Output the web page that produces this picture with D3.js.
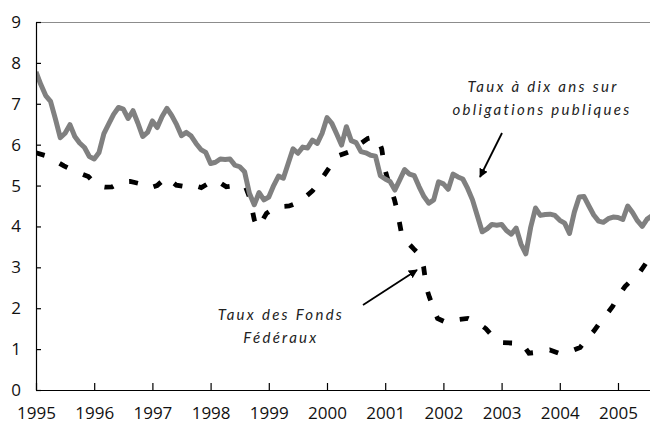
<!DOCTYPE html>
<html>
<head>
<meta charset="utf-8">
<script src="https://cdn.jsdelivr.net/npm/d3@7"></script>
<style>
  body { margin: 0; background: #fff; }
  .axis text { font-family: "Open Sans", sans-serif; font-size: 17px; fill: #111; }
  .axis path, .axis line { stroke: #000; stroke-width: 1.2; }
  .note { font-family: Lato, sans-serif; font-style: italic; font-size: 15px; letter-spacing: 2.3px; fill: #222; }
</style>
</head>
<body>
<div id="chart"></div>
<script>
// 10-year treasury yield, monthly, Jan 1995 -> Aug 2005
var tenYearStart = 1995;
var tenYearRates = [
  7.78, 7.47, 7.20, 7.06, 6.63, 6.17, 6.28, 6.49, 6.20, 6.04, 5.93, 5.71,
  5.65, 5.81, 6.27, 6.51, 6.74, 6.91, 6.87, 6.64, 6.83, 6.53, 6.20, 6.30,
  6.58, 6.42, 6.69, 6.89, 6.71, 6.49, 6.22, 6.30, 6.21, 6.03, 5.88, 5.81,
  5.54, 5.57, 5.65, 5.64, 5.65, 5.50, 5.46, 5.34, 4.81, 4.53, 4.83, 4.65,
  4.72, 5.00, 5.23, 5.18, 5.54, 5.90, 5.79, 5.94, 5.92, 6.11, 6.03, 6.28,
  6.66, 6.52, 6.26, 5.99, 6.44, 6.10, 6.05, 5.83, 5.80, 5.74, 5.72, 5.24,
  5.16, 5.10, 4.89, 5.14, 5.39, 5.28, 5.24, 4.97, 4.73, 4.57, 4.65, 5.09,
  5.04, 4.91, 5.28, 5.21, 5.16, 4.93, 4.65, 4.26, 3.87, 3.94, 4.05, 4.03,
  4.05, 3.90, 3.81, 3.96, 3.57, 3.33, 3.98, 4.45, 4.27, 4.29, 4.30, 4.27,
  4.15, 4.08, 3.83, 4.35, 4.72, 4.73, 4.50, 4.28, 4.13, 4.10, 4.19, 4.23,
  4.22, 4.17, 4.50, 4.34, 4.14, 4.00, 4.18, 4.26
];

// Fed funds rate (decimal years)
var fedYears = [
  1995.00, 1995.19, 1995.34, 1995.48, 1995.65, 1995.90, 1996.05, 1996.19, 1996.31, 1996.46,
  1996.62, 1996.77, 1996.94, 1997.08, 1997.24, 1997.41, 1997.53, 1997.63, 1997.84, 1997.96,
  1998.10, 1998.27, 1998.44, 1998.60, 1998.67, 1998.75, 1998.80, 1998.87, 1998.96, 1999.13,
  1999.35, 1999.53, 1999.75, 1999.87, 2000.09, 2000.18, 2000.46, 2000.58, 2000.70, 2000.80,
  2000.87, 2000.94, 2000.99, 2001.04, 2001.16, 2001.21, 2001.28, 2001.39, 2001.49, 2001.61,
  2001.66, 2001.71, 2001.76, 2001.83, 2001.90, 2002.07, 2002.25, 2002.42, 2002.61, 2002.73,
  2002.83, 2002.97, 2003.16, 2003.35, 2003.47, 2003.66, 2003.83, 2004.02, 2004.19, 2004.35,
  2004.47, 2004.59, 2004.69, 2004.81, 2004.91, 2005.00, 2005.12, 2005.24, 2005.36, 2005.48,
  2005.59
];
var fedRates = [
  5.80, 5.72, 5.60, 5.48, 5.36, 5.22, 4.99, 4.96, 4.97, 5.09,
  5.10, 5.05, 4.93, 5.00, 5.20, 5.01, 4.98, 5.04, 4.95, 5.05,
  5.13, 4.97, 5.00, 4.97, 4.71, 4.17, 3.98, 4.10, 4.32, 4.48,
  4.50, 4.60, 4.87, 5.09, 5.54, 5.72, 5.87, 6.03, 6.15, 6.18,
  6.15, 5.90, 5.42, 5.17, 4.65, 4.36, 3.83, 3.60, 3.45, 3.28,
  3.01, 2.49, 2.27, 2.00, 1.75, 1.64, 1.72, 1.75, 1.63, 1.50,
  1.34, 1.16, 1.15, 1.14, 0.90, 0.93, 0.98, 0.88, 0.95, 1.04,
  1.26, 1.45, 1.65, 1.86, 2.05, 2.28, 2.53, 2.70, 2.85, 3.10,
  3.25
];

var yearTicks = [1995, 1996, 1997, 1998, 1999, 2000, 2001, 2002, 2003, 2004, 2005];
var rateTicks = [0, 1, 2, 3, 4, 5, 6, 7, 8, 9];

var svgWidth = 650;
var svgHeight = 423;
var plot = { left: 36, right: 650, top: 22, bottom: 390 };

var svg = d3.select("#chart")
  .append("svg")
  .attr("width", svgWidth)
  .attr("height", svgHeight);

var x = d3.scaleLinear()
  .domain([1995, 2005.55])
  .range([plot.left, plot.right]);

var y = d3.scaleLinear()
  .domain([0, 9])
  .range([plot.bottom, plot.top]);

// top frame line
svg.append("line")
  .attr("x1", plot.left).attr("x2", plot.right)
  .attr("y1", plot.top + 0.5).attr("y2", plot.top + 0.5)
  .attr("stroke", "#8c8c8c")
  .attr("stroke-width", 1.2);

svg.append("clipPath").attr("id", "clip")
  .append("rect")
  .attr("x", plot.left).attr("y", plot.top)
  .attr("width", plot.right - plot.left)
  .attr("height", plot.bottom - plot.top);

var tenYear = tenYearRates.map(function(v, i) {
  return { t: tenYearStart + i / 12, v: v };
});
var fed = fedYears.map(function(t, i) {
  return { t: t, v: fedRates[i] };
});

var line = d3.line()
  .x(d => x(d.t))
  .y(d => y(d.v));

var lines = svg.append("g").attr("clip-path", "url(#clip)");

lines.append("path")
  .datum(fed)
  .attr("d", line)
  .attr("fill", "none")
  .attr("stroke", "#000")
  .attr("stroke-width", 4.8)
  .attr("stroke-dasharray", "9,17");

lines.append("path")
  .datum(tenYear)
  .attr("d", line)
  .attr("fill", "none")
  .attr("stroke", "#808080")
  .attr("stroke-width", 5)
  .attr("stroke-linejoin", "round");

// axes
svg.append("g")
  .attr("class", "axis")
  .attr("transform", `translate(${plot.left}, 0)`)
  .call(d3.axisLeft(y).tickValues(rateTicks).tickSizeInner(-5).tickSizeOuter(0).tickPadding(15));

svg.append("g")
  .attr("class", "axis")
  .attr("transform", `translate(0, ${plot.bottom})`)
  .call(d3.axisBottom(x).tickValues(yearTicks).tickFormat(d3.format("d"))
    .tickSizeInner(-7).tickSizeOuter(0).tickPadding(16.5));

// annotations
var defs = svg.append("defs");
defs.append("marker")
  .attr("id", "arrow")
  .attr("viewBox", "0 0 10 10")
  .attr("refX", 9).attr("refY", 5)
  .attr("markerWidth", 5).attr("markerHeight", 5)
  .attr("orient", "auto")
  .append("path")
  .attr("d", "M0,0 L10,5 L0,10 z")
  .attr("fill", "#000");

svg.append("text").attr("class", "note")
  .attr("x", 543).attr("y", 92).attr("text-anchor", "middle")
  .text("Taux à dix ans sur");
svg.append("text").attr("class", "note")
  .attr("x", 542).attr("y", 115).attr("text-anchor", "middle")
  .text("obligations publiques");

svg.append("text").attr("class", "note")
  .attr("x", 281).attr("y", 320).attr("text-anchor", "middle")
  .text("Taux des Fonds");
svg.append("text").attr("class", "note")
  .attr("x", 281).attr("y", 343).attr("text-anchor", "middle")
  .text("Fédéraux");

svg.append("line")
  .attr("x1", 502).attr("y1", 133)
  .attr("x2", 480).attr("y2", 177)
  .attr("stroke", "#000").attr("stroke-width", 1.8)
  .attr("marker-end", "url(#arrow)");

svg.append("line")
  .attr("x1", 363).attr("y1", 305)
  .attr("x2", 417).attr("y2", 270)
  .attr("stroke", "#000").attr("stroke-width", 1.8)
  .attr("marker-end", "url(#arrow)");
</script>
</body>
</html>
